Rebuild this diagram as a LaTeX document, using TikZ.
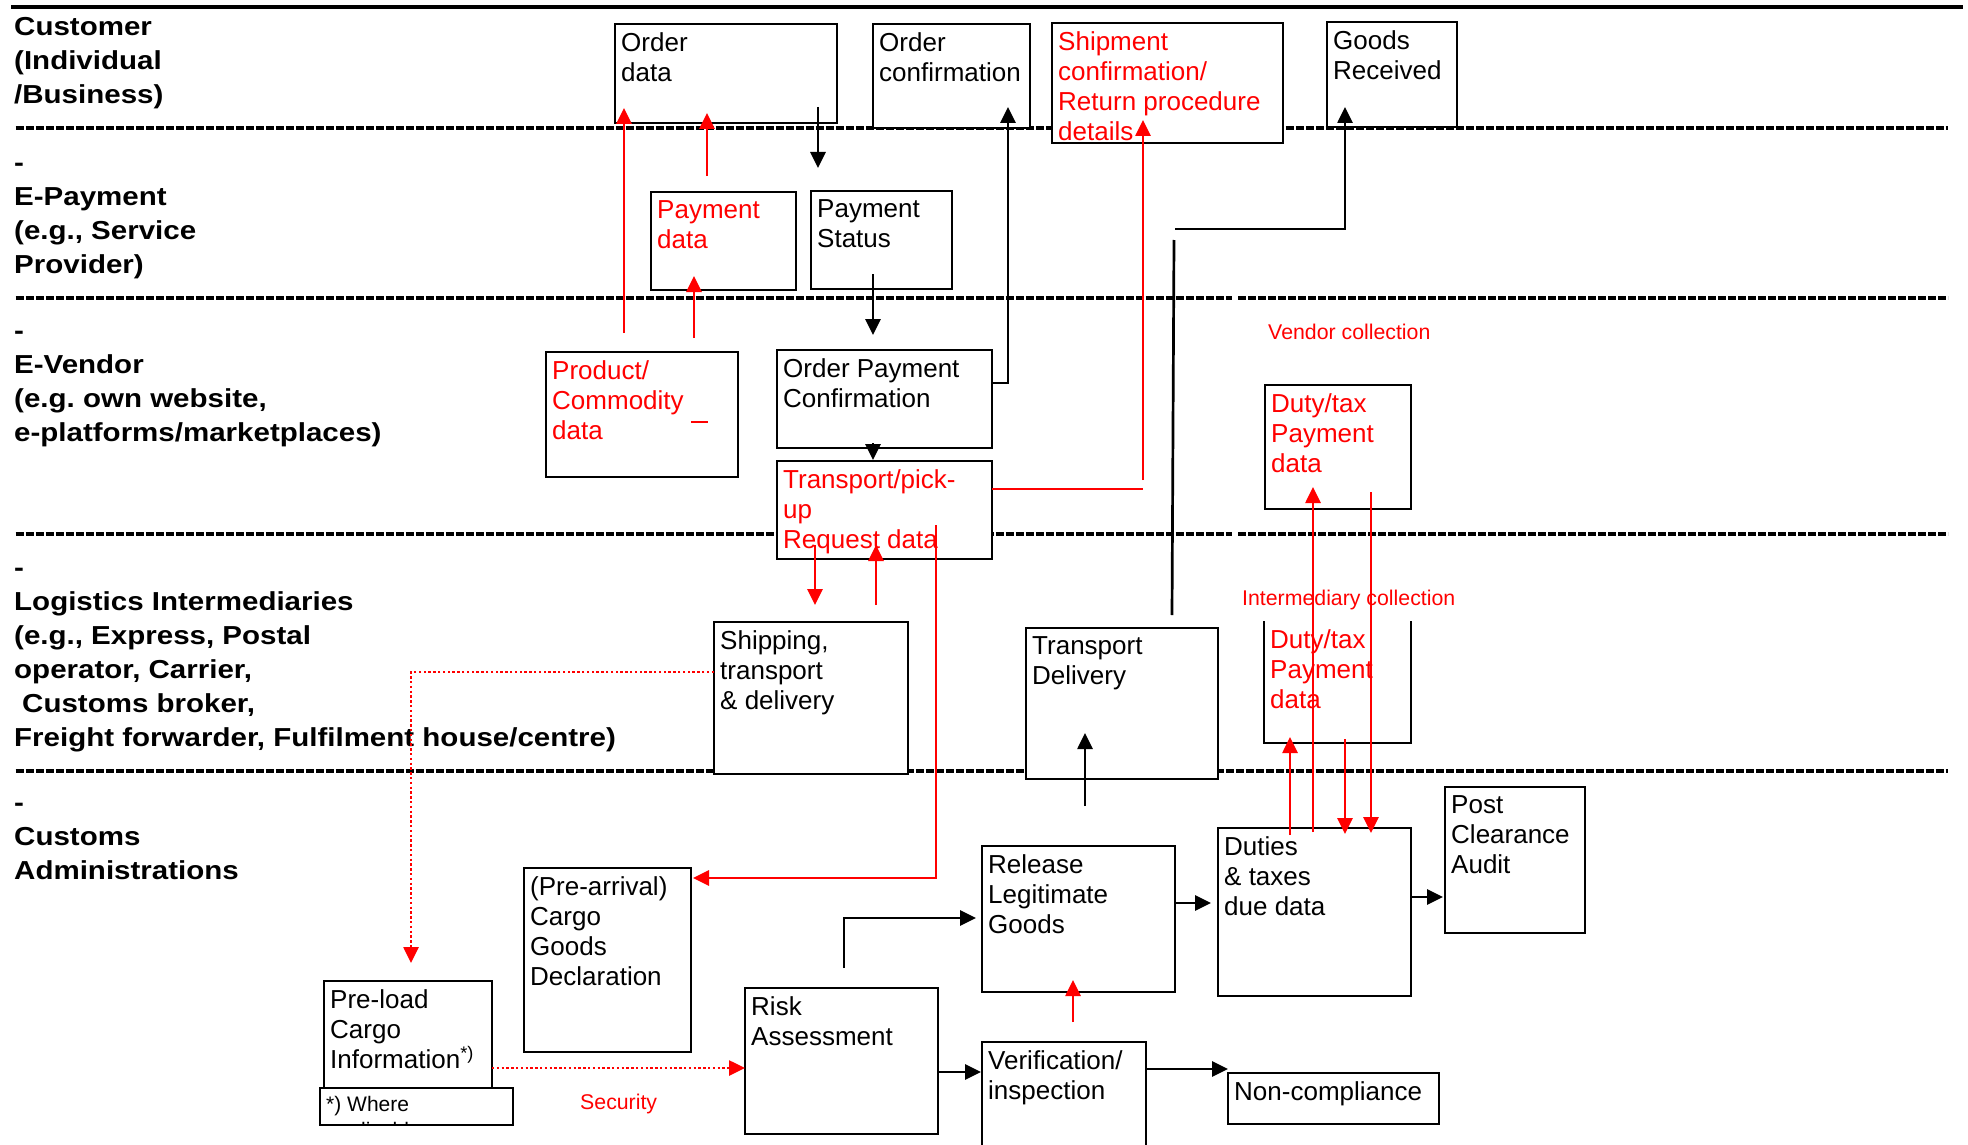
\documentclass[tikz,border=0pt]{standalone}
\usepackage{fontspec}
\setmainfont{Liberation Sans}
\newfontfamily\lanefont{Liberation Sans}[FakeStretch=1.135]
\usetikzlibrary{arrows.meta}
\frenchspacing
\begin{document}
\begin{tikzpicture}[x=1pt,y=-1pt,
  box/.style={draw=black, line width=2.7pt, fill=white, anchor=north west, inner sep=0pt, outer sep=0pt},
  txt/.style={anchor=north west, inner sep=0pt, align=left, font=\fontsize{26}{30}\selectfont},
  rtxt/.style={txt, text=red},
  lane/.style={anchor=north west, inner sep=0pt, align=left, font=\lanefont\bfseries\fontsize{26}{34}\selectfont},
  small/.style={anchor=base west, inner sep=0pt, text=red, font=\fontsize{21.3}{25}\selectfont},
  conn/.style={line width=2.7pt, -{Triangle[length=16pt,width=15pt]}},
  rconn/.style={conn, red},
  rline/.style={line width=2.7pt, red},
  bline/.style={line width=2.7pt},
  rdot/.style={line width=2.6pt, red, dash pattern=on 2.4pt off 2.4pt, -{Triangle[length=16pt,width=15pt]}},
  sep/.style={line width=3.6pt, dash pattern=on 8pt off 2pt},
]
\fill[white] (0,0) rectangle (1968,1145);
\useasboundingbox (0,0) rectangle (1968,1145);

% separators
\draw[line width=4.5pt] (11,7) -- (1963,7);
\draw[sep] (15.6,128) -- (1948,128);
\draw[sep] (15.6,298) -- (1232,298);
\draw[sep] (1238,298) -- (1948,298);
\draw[sep] (15.6,534) -- (1232,534);
\draw[sep] (1238,534) -- (1948,534);
\draw[sep] (15.6,771) -- (1948,771);

% lane labels
\node[lane] (l1) at (14,17.4) {\vphantom{C}Customer\\(Individual\\/Business)};
\node[lane] (l2) at (14,153.4) {\vphantom{C}-\\E-Payment\\(e.g., Service\\Provider)};
\node[lane] (l3) at (14,321.4) {\vphantom{C}-\\E-Vendor\\(e.g. own website,\\e-platforms/marketplaces)};
\node[lane] (l4) at (14,558.4) {\vphantom{C}-\\Logistics Intermediaries\\(e.g., Express, Postal\\operator, Carrier,\\\hspace*{8pt}Customs broker,\\Freight forwarder, Fulfilment house/centre)};
\node[lane] (l5) at (14,793.4) {\vphantom{C}-\\Customs\\Administrations};

% boxes
\node[box, minimum width=222pt, minimum height=99pt] (od) at (615,24) {};
\node[box, minimum width=157pt, minimum height=104pt] (oc) at (873,24) {};
\node[box, minimum width=231pt, minimum height=120pt] (sc) at (1052,23) {};
\node[box, minimum width=130pt, minimum height=105pt] (gr) at (1327,22) {};
\node[box, minimum width=145pt, minimum height=98pt] (pd) at (651,192) {};
\node[box, minimum width=141pt, minimum height=98pt] (ps) at (811,191) {};
\node[box, minimum width=192pt, minimum height=125pt] (prod) at (546,352) {};
\node[box, minimum width=215pt, minimum height=98pt] (opc) at (777,350) {};
\node[box, minimum width=215pt, minimum height=98pt] (tp) at (777,461) {};
\node[box, minimum width=146pt, minimum height=124pt] (dtv) at (1265,385) {};
\node[box, minimum width=194pt, minimum height=152pt] (ship) at (714,622) {};
\node[box, minimum width=192pt, minimum height=151pt] (td) at (1026,628) {};
\node[box, minimum width=140pt, minimum height=146pt] (pca) at (1445,787) {};
\node[box, minimum width=193pt, minimum height=168pt] (dut) at (1218,828) {};
\node[box, minimum width=193pt, minimum height=146pt] (rel) at (982,846) {};
\node[box, minimum width=164pt, minimum height=118pt] (ver) at (982,1042) {};
\node[box, minimum width=211pt, minimum height=51pt] (nc) at (1228,1073) {};
\node[box, minimum width=193pt, minimum height=146pt] (risk) at (745,988) {};
\node[box, minimum width=167pt, minimum height=184pt] (pre) at (524,868) {};
\node[box, minimum width=168pt, minimum height=107pt] (pl) at (324,981) {};
\node[box, minimum width=193pt, minimum height=37pt] (wa) at (320,1088) {};

% intermediary duty box (top hidden)
\coordinate (dtiNW) at (1264,621);
\coordinate (dtiSW) at (1264,743);
\draw[line width=2.7pt] (dtiNW) -- (dtiSW) -- ++(147,0) -- ++(0,-122);

% box texts
\node[txt] (od-t) at ([shift={(6,8)}]od.north west) {Order\\data};
\node[txt] (oc-t) at ([shift={(6,8)}]oc.north west) {Order\\confirmation};
\node[rtxt] (sc-t) at ([shift={(6,8)}]sc.north west) {Shipment\\confirmation/\\Return procedure\\details};
\node[txt] (gr-t) at ([shift={(6,8)}]gr.north west) {Goods\\Received};
\node[rtxt] (pd-t) at ([shift={(6,8)}]pd.north west) {Payment\\data};
\node[txt] (ps-t) at ([shift={(6,8)}]ps.north west) {Payment\\Status};
\node[rtxt] (prod-t) at ([shift={(6,8)}]prod.north west) {Product/\\Commodity\\data};
\node[txt] (opc-t) at ([shift={(6,8)}]opc.north west) {Order Payment\\Confirmation};
\node[rtxt] (tp-t) at ([shift={(6,8)}]tp.north west) {Transport/pick-\\up\\Request data};
\node[rtxt] (dtv-t) at ([shift={(6,8)}]dtv.north west) {Duty/tax\\Payment\\data};
\node[txt] (ship-t) at ([shift={(6,8)}]ship.north west) {Shipping,\\transport\\\& delivery};
\node[txt] (td-t) at ([shift={(6,8)}]td.north west) {Transport\\Delivery};
\node[rtxt] (dti-t) at ([shift={(6,8)}]dtiNW) {Duty/tax\\Payment\\data};
\node[txt] (pca-t) at ([shift={(6,8)}]pca.north west) {Post\\Clearance\\Audit};
\node[txt] (dut-t) at ([shift={(6,8)}]dut.north west) {Duties\\\& taxes\\due data};
\node[txt] (rel-t) at ([shift={(6,8)}]rel.north west) {Release\\Legitimate\\Goods};
\node[txt] (ver-t) at ([shift={(6,8)}]ver.north west) {Verification/\\inspection};
\node[txt] (nc-t) at ([shift={(6,8)}]nc.north west) {Non-compliance};
\node[txt] (risk-t) at ([shift={(6,8)}]risk.north west) {Risk\\Assessment};
\node[txt] (pre-t) at ([shift={(6,8)}]pre.north west) {(Pre-arrival)\\Cargo\\Goods\\Declaration};
\node[txt] (pl-t) at ([shift={(6,8)}]pl.north west) {Pre-load\\Cargo\\Information\textsuperscript{*)}};
\begin{scope}
\clip ([shift={(1,1)}]wa.north west) rectangle ([shift={(-1,-1)}]wa.south east);
\node[txt, font=\fontsize{21}{26}\selectfont] (wa-t) at ([shift={(6,8)}]wa.north west) {*) Where\\applicable};
\end{scope}

% red labels
\node[small] (vc) at (1268,339.7) {Vendor collection};
\node[small] (ic) at (1242,605.7) {Intermediary collection};
\node[small] (sec) at (580,1109.7) {Security};

% small red mark in product box
\draw[rline] ([shift={(145,70)}]prod.north west) -- ++(17,0);

% black connectors
\draw[conn] ([shift={(-19,-16)}]od.south east) -- ([shift={(7,-23)}]ps.north west);
\draw[conn] ([shift={(62,-15)}]ps.south west) -- ([shift={(96,-15)}]opc.north west);
\draw[conn] ([shift={(96,-5)}]opc.south west) -- ([shift={(96,-1)}]tp.north west);
\draw[conn] ([shift={(0,33)}]opc.north east) -| ([shift={(135,-21)}]oc.south west);
\draw[bline] ([shift={(146,-13)}]td.north west) -- ++(2,-375);
\coordinate (tdk) at (1175,229);
\draw[conn] (tdk) -| ([shift={(18,-20)}]gr.south west);
\draw[conn] ([shift={(59,27)}]td.south west) -- ([shift={(59,-46)}]td.south west);
\draw[conn] ([shift={(99,-20)}]risk.north west) |- ([shift={(-6,72)}]rel.north west);
\draw[conn] ([shift={(0,57)}]rel.north east) -- ([shift={(-7,75)}]dut.north west);
\draw[conn] ([shift={(0,69)}]dut.north east) -- ([shift={(-2,110)}]pca.north west);
\draw[conn] ([shift={(0,84)}]risk.north east) -- ([shift={(-1,30)}]ver.north west);
\draw[conn] ([shift={(0,27)}]ver.north east) -- ([shift={(0,-4)}]nc.north west);

% red connectors
\draw[rconn] ([shift={(78,-19)}]prod.north west) -- ([shift={(9,-15)}]od.south west);
\draw[rconn] ([shift={(148,-14)}]prod.north west) -- ([shift={(43,-14)}]pd.south west);
\draw[rconn] ([shift={(56,-16)}]pd.north west) -- ([shift={(92,-10)}]od.south west);
\draw[rline] ([shift={(0,28)}]tp.north east) -- ++(151,0) coordinate (tpc);
\draw[rconn] ([shift={(0,-9)}]tpc) -- ([shift={(91,-23)}]sc.south west);
\draw[rconn] ([shift={(38,-14)}]tp.south west) -- ([shift={(101,-17)}]ship.north west);
\draw[rconn] ([shift={(162,-17)}]ship.north west) -- ([shift={(99,-14)}]tp.south west);
\draw[rconn] ([shift={(159,-34)}]tp.south west) |- ([shift={(2,10)}]pre.north east);
\draw[rconn] ([shift={(91,-20)}]ver.north west) -- ([shift={(91,-12)}]rel.south west);
\draw[rconn] ([shift={(95,4)}]dut.north west) -- ([shift={(48,-22)}]dtv.south west);
\draw[rconn] ([shift={(106,-17)}]dtv.south west) -- ([shift={(153,5)}]dut.north west);
\draw[rconn] ([shift={(72,7)}]dut.north west) -- ([shift={(26,-6)}]dtiSW);
\draw[rconn] ([shift={(81,-4)}]dtiSW) -- ([shift={(127,6)}]dut.north west);

% red dotted
\draw[rdot] ([shift={(0,50)}]ship.north west) -| ([shift={(87,-18)}]pl.north west);
\draw[rdot] ([shift={(0,87)}]pl.north east) -- ([shift={(0,80)}]risk.north west);
\end{tikzpicture}
\end{document}
